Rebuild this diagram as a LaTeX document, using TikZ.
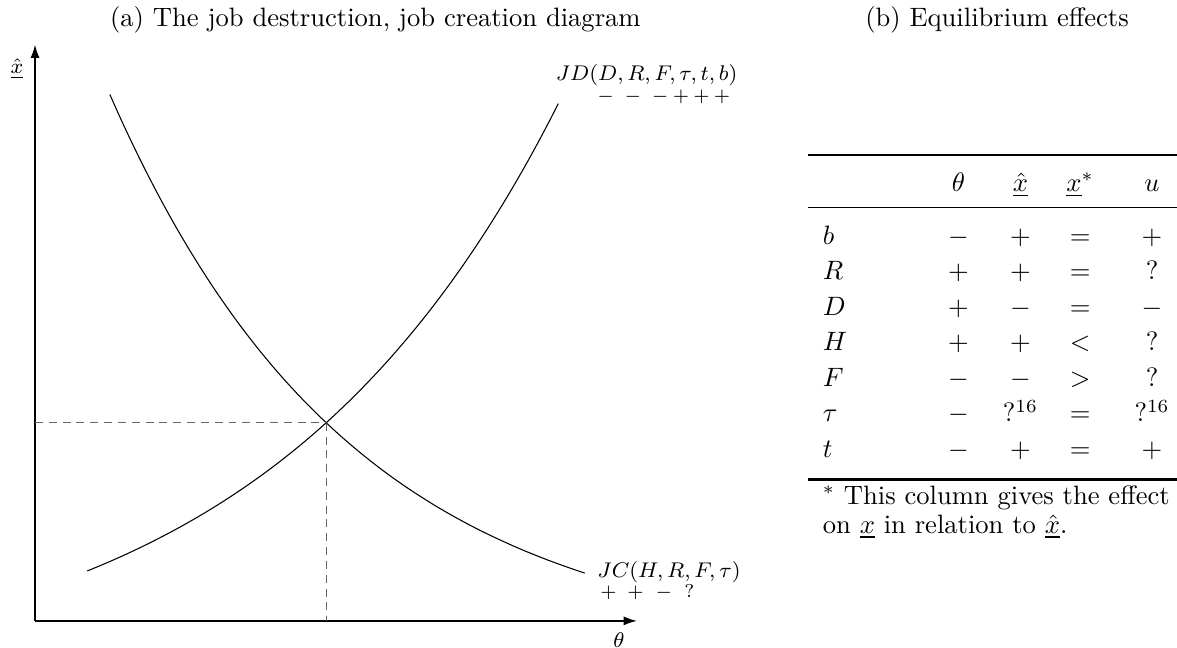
\documentclass[tikz,border=0pt]{standalone}
\usepackage{tikz}
\usetikzlibrary{arrows.meta}

\begin{document}
\begin{tikzpicture}[
  axis/.style={->, >={Latex[length=5pt,width=3.4pt]}, semithick},
  curve/.style={thin, smooth, samples=80},
  guide/.style={dash pattern=on 3pt off 2.2pt, line width=0.5pt, color=black!60},
  lbl/.style={font=\footnotesize, inner sep=0pt},
  sgn/.style={font=\scriptsize, inner sep=0pt},
  cell/.style={anchor=base, inner sep=0pt},
  rule/.style={line width=0.8pt},
  every node/.style={align=center}
]
  \useasboundingbox (-0.463,-0.357) rectangle (15.10,8.21);

  % (a) diagram
  \node (tta) at (4.50,7.95) {(a) The job destruction, job creation diagram};
  \coordinate (o)  at (0,0);
  \coordinate (xe) at (7.96,0);
  \coordinate (ye) at (0,7.62);
  \coordinate (eq) at (3.85,2.62);
  \draw[axis] (o) -- (xe);
  \draw[axis] (o) -- (ye);
  \node[lbl] (ylab) at (-0.24,7.30) {$\underline{\hat{x}}$};
  \node[lbl] (xlab) at (7.72,-0.25) {$\theta$};

  \draw[curve, domain=0.69:6.92] plot (\x, {-0.914+1.319*exp(0.256*\x)});
  \draw[curve, domain=0.99:7.27] plot (\x, {-0.421+10.03*exp(-0.31*\x)});
  \draw[guide] (o |- eq) -- (eq);
  \draw[guide] (eq) -- (eq |- o);

  \node[lbl, anchor=west] (jd) at (6.88,7.22) {$JD(D,R,F,\tau,t,b)$};
  \node[sgn, anchor=west] (jds) at (7.43,6.93)
    {$-$\kern4pt$-$\kern4pt$-$\kern1.6pt$+$\kern1.6pt$+$\kern1.6pt$+$};
  \node[lbl, anchor=west] (jc) at (7.43,0.64) {$JC(H,R,F,\tau)$};
  \node[sgn, anchor=west] (jcs) at (7.47,0.38)
    {$+$\kern4pt$+$\kern4.5pt$-$\kern4.5pt$?$};

  % (b) table
  \node (ttb) at (12.72,7.95) {(b) Equilibrium effects};
  \coordinate (tl) at (10.22,6.16);
  \coordinate (tr) at (15.10,6.16);
  \draw[rule] (tl) -- (tr);
  \draw[thin] ([yshift=-0.70cm]tl) -- ([yshift=-0.70cm]tr);
  \draw[rule] ([yshift=-4.29cm]tl) -- ([yshift=-4.29cm]tr);
  \node[cell] (hth) at (12.21,5.68) {$\theta$};
  \node[cell] (hxh) at (13.03,5.68) {$\underline{\hat{x}}$};
  \node[cell] (hxs) at (13.82,5.68) {$\underline{x}^*$};
  \node[cell] (hu)  at (14.77,5.68) {$u$};
  \foreach \lab/\ca/\cb/\cc/\cd [count=\i] in
    {b/-/+/=/+, R/+/+/=/?, D/+/-/=/-, H/+/+/</?,
     F/-/-/>/?, \tau/-/?^{16}/=/?^{16}, t/-/+/=/+}
  {
    \node[cell, anchor=base west] (lab\i) at (10.41,5.45-0.47*\i) {$\lab$};
    \node[cell] (th\i) at (12.21,5.45-0.47*\i) {$\ca$};
    \node[cell] (xh\i) at (13.03,5.45-0.47*\i) {$\cb$};
    \node[cell] (xs\i) at (13.82,5.45-0.47*\i) {$\cc$};
    \node[cell] (uu\i) at (14.77,5.45-0.47*\i) {$\cd$};
  }
  \node[anchor=north west, align=left, inner sep=0pt] (note) at (10.41,1.80)
    {$^*$ This column gives the effect\\[-1pt] on $\underline{x}$ in relation to $\underline{\hat{x}}$.};
\end{tikzpicture}
\end{document}
